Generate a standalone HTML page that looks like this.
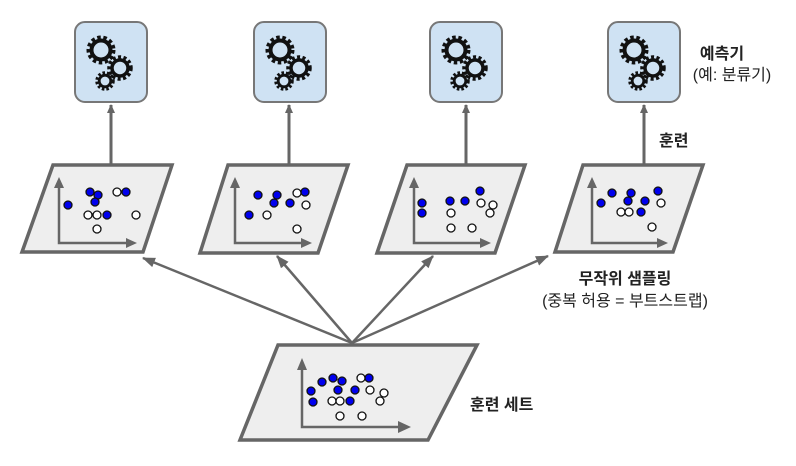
<!DOCTYPE html>
<html><head><meta charset="utf-8"><style>
html,body{margin:0;padding:0;background:#fff;}
svg{display:block;}
text{font-family:"Liberation Sans","Noto Sans CJK KR",sans-serif;fill:#222;}
</style></head><body>
<svg width="796" height="466" viewBox="0 0 796 466" xmlns="http://www.w3.org/2000/svg">
<defs>
<marker id="ah" markerWidth="10" markerHeight="10" refX="8" refY="5" orient="auto" markerUnits="userSpaceOnUse">
<path d="M0,1 L9,5 L0,9 Z" fill="#666"/>
</marker>
<marker id="ah2" markerWidth="14" markerHeight="12" refX="12" refY="6" orient="auto" markerUnits="userSpaceOnUse">
<path d="M0,1 L13,6 L0,11 Z" fill="#666"/>
</marker>
<g id="gears">
<circle cx="26" cy="28" r="11.5" fill="none" stroke="#111" stroke-width="6" stroke-dasharray="3.2 2.4"/>
<circle cx="26" cy="28" r="9.5" fill="none" stroke="#111" stroke-width="4"/>
<circle cx="45" cy="46" r="10" fill="none" stroke="#111" stroke-width="5.5" stroke-dasharray="2.8 2.2"/>
<circle cx="45" cy="46" r="8" fill="none" stroke="#111" stroke-width="3.5"/>
<circle cx="30" cy="59" r="7.5" fill="none" stroke="#111" stroke-width="4.5" stroke-dasharray="2.3 1.8"/>
<circle cx="30" cy="59" r="5.8" fill="none" stroke="#111" stroke-width="2.8"/>
</g>
</defs>

<g stroke="#777" stroke-width="2" fill="#cfe2f3">
<rect x="75" y="22" width="72" height="80" rx="10"/>
<rect x="254" y="22" width="72" height="80" rx="10"/>
<rect x="430" y="22" width="72" height="80" rx="10"/>
<rect x="608" y="22" width="72" height="80" rx="10"/>
</g>
<use href="#gears" x="75" y="22"/>
<use href="#gears" x="254" y="22"/>
<use href="#gears" x="430" y="22"/>
<use href="#gears" x="608" y="22"/>

<g stroke="#666" stroke-width="3" fill="none">
<line x1="111" y1="165" x2="111" y2="105" marker-end="url(#ah)"/>
<line x1="289" y1="165" x2="289" y2="105" marker-end="url(#ah)"/>
<line x1="466" y1="165" x2="466" y2="105" marker-end="url(#ah)"/>
<line x1="644" y1="165" x2="644" y2="105" marker-end="url(#ah)"/>
</g>

<g stroke="#666" stroke-width="3.5" fill="#eee" stroke-linejoin="miter">
<polygon points="53,165 172,165 143,252 22,252"/>
<polygon points="228,165 348,165 318,253 200,253"/>
<polygon points="407,165 525,165 495,253 377,253"/>
<polygon points="583,165 703,165 673,252 555,252"/>
<polygon points="278,345 477,345 428,440 240,440"/>
</g>

<g stroke="#666" stroke-width="2.5" fill="none">
<line x1="352" y1="343" x2="143" y2="258" marker-end="url(#ah2)"/>
<line x1="352" y1="343" x2="277" y2="256" marker-end="url(#ah2)"/>
<line x1="352" y1="343" x2="433" y2="256" marker-end="url(#ah2)"/>
<line x1="352" y1="343" x2="548" y2="256" marker-end="url(#ah2)"/>
</g>

<g stroke="#666" stroke-width="2.5" fill="none">
<polyline points="59,181 59,243 133,243"/>
<polyline points="235,181 235,243 308,243"/>
<polyline points="414,181 414,243 487,243"/>
<polyline points="592,181 592,243 664,243"/>
<polyline points="302,364 302,427 405,427"/>
</g>
<g fill="#666">
<path d="M59,177 L54,188 L64,188Z"/><path d="M137,243 L126,238 L126,248Z"/>
<path d="M235,177 L230,188 L240,188Z"/><path d="M312,243 L301,238 L301,248Z"/>
<path d="M414,177 L409,188 L419,188Z"/><path d="M491,243 L480,238 L480,248Z"/>
<path d="M592,177 L587,188 L597,188Z"/><path d="M668,243 L657,238 L657,248Z"/>
<path d="M302,358 L297,370 L307,370Z"/><path d="M411,427 L398,421 L398,433Z"/>
</g>

<g stroke="#111" stroke-width="1.3">
<g fill="#0000ee">
<circle cx="90" cy="192" r="4"/><circle cx="98" cy="195" r="4"/><circle cx="95" cy="202" r="4"/><circle cx="68" cy="205" r="4"/><circle cx="107" cy="215" r="4"/><circle cx="126" cy="192" r="4"/>
<circle cx="258" cy="195" r="4"/><circle cx="277" cy="195" r="4"/><circle cx="274" cy="203" r="4"/><circle cx="290" cy="203" r="4"/><circle cx="249" cy="215" r="4"/><circle cx="305" cy="192" r="4"/>
<circle cx="422" cy="203" r="4"/><circle cx="422" cy="213" r="4"/><circle cx="450" cy="201" r="4"/><circle cx="465" cy="201" r="4"/><circle cx="480" cy="191" r="4"/>
<circle cx="601" cy="203" r="4"/><circle cx="612" cy="193" r="4"/><circle cx="631" cy="193" r="4"/><circle cx="628" cy="201" r="4"/><circle cx="645" cy="201" r="4"/><circle cx="658" cy="191" r="4"/><circle cx="641" cy="212" r="4"/>
<circle cx="322" cy="382" r="4"/><circle cx="333" cy="378" r="4"/><circle cx="342" cy="381" r="4"/><circle cx="311" cy="391" r="4"/><circle cx="338" cy="390" r="4"/><circle cx="355" cy="390" r="4"/><circle cx="313" cy="402" r="4"/><circle cx="350" cy="401" r="4"/><circle cx="369" cy="378" r="4"/>
</g>
<g fill="#fff">
<circle cx="117" cy="192" r="4"/><circle cx="88" cy="215" r="4"/><circle cx="97" cy="215" r="4"/><circle cx="136" cy="215" r="4"/><circle cx="97" cy="229" r="4"/>
<circle cx="297" cy="193" r="4"/><circle cx="306" cy="205" r="4"/><circle cx="267" cy="215" r="4"/><circle cx="297" cy="229" r="4"/>
<circle cx="481" cy="203" r="4"/><circle cx="493" cy="205" r="4"/><circle cx="490" cy="213" r="4"/><circle cx="451" cy="213" r="4"/><circle cx="451" cy="228" r="4"/><circle cx="472" cy="228" r="4"/>
<circle cx="661" cy="203" r="4"/><circle cx="621" cy="212" r="4"/><circle cx="629" cy="212" r="4"/><circle cx="652" cy="227" r="4"/>
<circle cx="361" cy="378" r="4"/><circle cx="370" cy="390" r="4"/><circle cx="384" cy="393" r="4"/><circle cx="380" cy="401" r="4"/><circle cx="332" cy="401" r="4"/><circle cx="340" cy="401" r="4"/><circle cx="340" cy="416" r="4"/><circle cx="362" cy="416" r="4"/>
</g>
</g>

<text x="722" y="59" font-size="16" font-weight="bold" text-anchor="middle">예측기</text>
<text x="732" y="80" font-size="16" text-anchor="middle">(예: 분류기)</text>
<text x="659" y="146" font-size="16" font-weight="bold">훈련</text>
<text x="625" y="284" font-size="16" font-weight="bold" text-anchor="middle">무작위 샘플링</text>
<text x="625" y="306" font-size="16" text-anchor="middle">(중복 허용 = 부트스트랩)</text>
<text x="470" y="410" font-size="16" font-weight="bold">훈련 세트</text>
</svg>
</body></html>
